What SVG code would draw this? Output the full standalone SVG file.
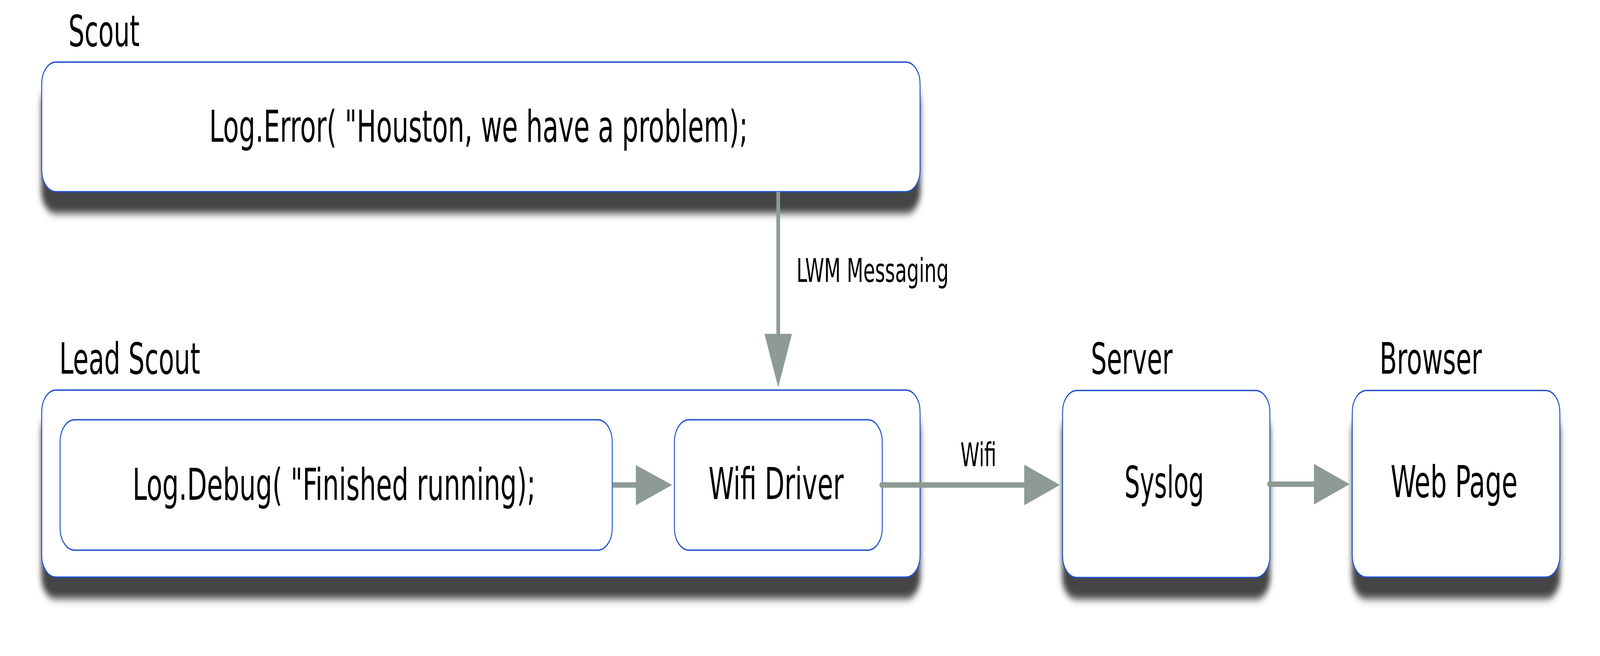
<svg xmlns="http://www.w3.org/2000/svg" width="6097" height="1680" viewBox="0 0 6097 1680" preserveAspectRatio="none" style="width:100%;height:100%">
<style>
.box{fill:#ffffff;stroke:#1a50cc;stroke-width:3.5}
.sh{filter:url(#ds)}
.hdr{font-family:"DejaVu Sans Condensed","DejaVu Sans",sans-serif;font-size:110px;fill:#000}
.lbl{font-family:"DejaVu Sans Condensed","DejaVu Sans",sans-serif;font-size:112px;fill:#000}
.elbl{font-family:"DejaVu Sans Condensed","DejaVu Sans",sans-serif;font-size:84px;fill:#000}
.ln{stroke:#8d9b94;stroke-width:14;fill:none}
.hd{fill:#8d9b94}
</style>
<defs>
<filter id="ds" x="-5%" y="-10%" width="110%" height="160%">
<feDropShadow dx="0" dy="54" stdDeviation="10" flood-color="#444444" flood-opacity="1"/>
</filter>
</defs>
<rect width="6097" height="1680" fill="#ffffff"/>

<g id="scout">
<text class="hdr" x="261" y="118" textLength="271" lengthAdjust="spacingAndGlyphs">Scout</text>
<rect class="box sh" x="159" y="159" width="3347" height="332" rx="55" ry="55"/>
<text class="lbl" x="797" y="363" textLength="2053" lengthAdjust="spacingAndGlyphs">Log.Error( &quot;Houston, we have a problem);</text>
</g>

<g id="lead-scout">
<text class="hdr" x="226" y="957" textLength="537" lengthAdjust="spacingAndGlyphs">Lead Scout</text>
<rect class="box sh" x="159" y="999" width="3347" height="479" rx="55" ry="55"/>
</g>

<g id="debug">
<rect class="box" x="229" y="1075" width="2104" height="334" rx="56" ry="56"/>
<text class="lbl" x="505" y="1280" textLength="1536" lengthAdjust="spacingAndGlyphs">Log.Debug( &quot;Finished running);</text>
</g>

<g id="wifi-driver">
<rect class="box" x="2570" y="1075" width="792" height="334" rx="56" ry="56"/>
<text class="lbl" x="2700" y="1278" textLength="515" lengthAdjust="spacingAndGlyphs">Wifi Driver</text>
</g>

<g id="server">
<text class="hdr" x="4157" y="957" textLength="311" lengthAdjust="spacingAndGlyphs">Server</text>
<rect class="box sh" x="4049" y="1000" width="790" height="479" rx="55" ry="55"/>
<text class="lbl" x="4285" y="1274" textLength="303" lengthAdjust="spacingAndGlyphs">Syslog</text>
</g>

<g id="browser">
<text class="hdr" x="5257" y="957" textLength="390" lengthAdjust="spacingAndGlyphs">Browser</text>
<rect class="box sh" x="5153" y="1000" width="791" height="478" rx="55" ry="55"/>
<text class="lbl" x="5299" y="1273" textLength="484" lengthAdjust="spacingAndGlyphs">Web Page</text>
</g>

<g id="connectors">
<line class="ln" x1="2965.5" y1="491" x2="2965.5" y2="856"/>
<polygon class="hd" points="2913,855 3018,855 2965.5,992"/>
<text class="elbl" x="3035" y="722" textLength="580" lengthAdjust="spacingAndGlyphs">LWM Messaging</text>

<line class="ln" x1="2334" y1="1242" x2="2425" y2="1242"/>
<polygon class="hd" points="2423,1191 2423,1294 2561,1242"/>

<line class="ln" x1="3358" y1="1242" x2="3905" y2="1242" stroke-linecap="round"/>
<polygon class="hd" points="3903,1190 3903,1294 4039,1242"/>
<text class="elbl" x="3660" y="1194" textLength="137" lengthAdjust="spacingAndGlyphs">Wifi</text>

<line class="ln" x1="4836" y1="1240" x2="5009" y2="1240" stroke-linecap="round"/>
<polygon class="hd" points="5007,1188 5007,1292 5143,1240"/>
</g>
</svg>
